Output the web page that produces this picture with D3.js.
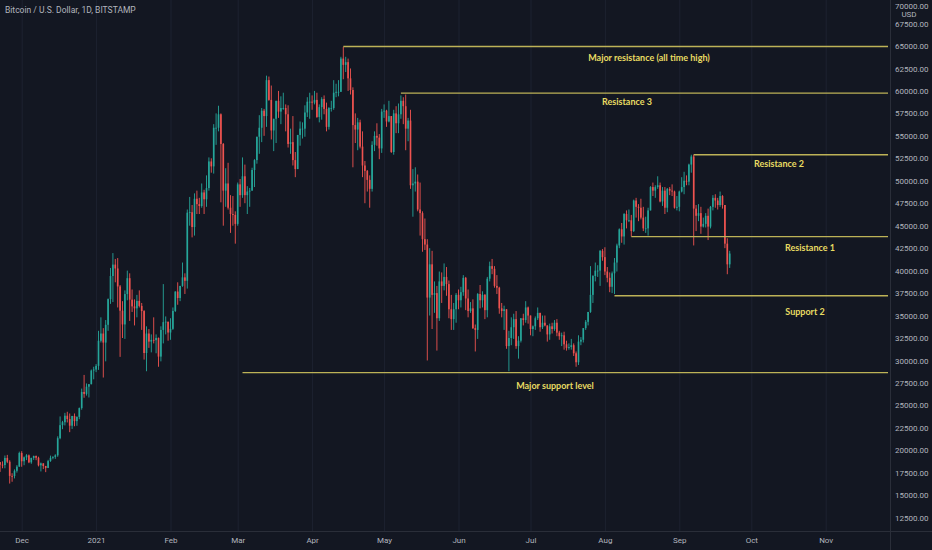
<!DOCTYPE html>
<html><head><meta charset="utf-8">
<script src="https://cdn.jsdelivr.net/npm/d3@7"></script>
<style>html,body{margin:0;padding:0;background:#131722;overflow:hidden}</style>
</head><body><svg id="c" width="932" height="550"></svg>
<script>
// ---- DATA (prices in thousands of USD, daily candles from startDate) ----
const title = "Bitcoin / U.S. Dollar, 1D, BITSTAMP";
const startDate = "2020-11-21";
const firstOpen = 18.54;
const closes = [
 18.68,18.40,18.36,19.15,18.73,17.15,17.14,17.72,18.18,19.70,
 18.78,19.22,19.44,18.66,19.15,19.37,19.17,18.33,18.55,18.25,18.04,18.80,19.17,19.27,19.44,21.35,22.80,23.13,23.85,23.48,22.74,23.82,23.25,23.72,24.70,26.49,26.28,27.08,27.36,28.88,28.99,
 29.40,32.19,33.00,31.99,33.97,36.83,39.40,40.67,40.24,38.24,35.54,34.01,37.39,39.16,36.77,36.02,35.80,36.63,36.07,35.50,30.83,33.00,32.10,32.29,32.26,32.51,30.43,33.40,34.27,34.32,33.11,
 33.52,35.51,37.67,36.95,38.30,39.25,38.87,46.45,46.50,44.85,48.00,47.40,47.19,48.70,47.94,49.19,52.15,51.60,55.90,55.90,57.40,54.10,48.90,49.70,47.00,46.30,46.20,45.20,
 49.60,48.40,50.50,48.40,48.80,48.90,51.20,52.30,54.90,55.90,57.80,57.20,61.20,59.00,55.60,56.90,58.90,57.70,58.10,58.10,57.40,54.10,54.30,52.30,51.30,55.10,55.80,55.80,57.60,58.80,58.80,
 58.70,59.00,57.10,58.20,59.10,58.00,56.00,58.10,58.10,59.80,59.90,59.90,63.60,62.90,63.20,61.40,60.10,56.20,55.70,56.50,53.80,51.70,51.10,50.10,49.10,54.00,55.00,54.80,53.60,57.70,
 57.80,56.60,57.20,53.20,57.50,56.40,57.40,58.90,58.30,55.80,56.70,49.50,49.70,49.90,46.80,46.40,43.50,42.90,37.00,40.70,37.30,37.50,34.70,38.80,38.30,39.30,38.50,35.70,34.60,35.70,37.30,
 36.70,37.60,39.20,36.90,35.50,35.80,33.60,33.40,37.40,36.70,37.30,35.60,39.10,40.50,40.20,38.30,38.10,35.80,35.50,35.70,31.60,32.50,33.70,34.60,31.60,32.20,34.70,34.50,35.90,35.00,
 33.50,33.80,34.70,35.30,33.70,34.20,33.90,32.90,33.80,33.50,34.20,33.10,32.70,32.80,31.80,31.40,31.50,31.70,30.80,29.80,32.10,32.30,33.60,34.30,35.40,37.30,39.40,40.00,40.00,42.20,41.50,
 39.90,39.20,38.20,39.70,40.90,42.80,44.60,43.80,46.30,45.60,45.60,44.40,47.80,47.10,47.00,45.90,44.70,44.70,46.70,49.30,48.90,49.30,49.50,47.70,48.90,47.00,49.10,48.90,48.80,47.00,47.10,
 48.80,49.30,50.00,49.90,51.80,52.70,46.90,46.10,46.40,44.90,45.20,46.10,44.90,47.10,48.10,47.80,47.30,48.30,47.30,43.00,40.70,41.90
];
const highs = [
 18.80,18.70,18.77,19.42,19.49,18.90,17.45,17.88,18.35,19.85,
 19.90,19.31,19.57,19.53,19.18,19.41,19.42,19.29,18.64,18.56,18.27,18.94,19.41,19.34,19.56,21.56,23.77,23.28,24.17,24.29,24.10,23.84,24.10,23.78,24.76,26.87,28.39,27.44,27.38,28.99,29.30,
 29.60,33.30,34.80,33.60,34.50,36.90,40.30,41.95,41.30,41.40,38.40,36.60,37.80,40.00,39.70,37.90,36.80,37.30,37.80,36.40,35.60,33.80,33.50,32.90,34.80,32.90,32.55,33.80,38.50,34.90,34.30,
 34.70,35.90,37.70,38.70,38.30,40.90,39.70,46.80,48.20,47.30,48.60,48.90,48.10,49.70,49.00,50.60,52.60,52.50,56.30,57.50,58.35,57.50,54.20,51.40,52.00,48.40,48.30,46.60,
 49.80,50.20,52.60,51.80,49.40,49.20,51.45,52.40,54.90,57.30,58.10,58.00,61.70,61.60,60.60,56.90,58.90,60.00,59.40,59.80,58.50,58.40,55.80,57.20,53.20,55.10,56.60,56.50,58.40,59.30,59.80,
 59.50,60.00,59.80,58.50,59.30,59.50,58.70,58.20,58.90,61.20,60.80,61.20,63.80,64.90,63.80,63.60,62.50,60.40,57.50,57.00,56.80,55.50,52.20,51.20,50.60,54.40,55.50,56.40,55.20,58.00,
 58.50,57.90,58.90,57.20,57.90,58.30,58.60,59.50,59.30,59.60,57.00,57.90,51.30,51.50,50.70,49.80,46.60,45.80,43.50,42.50,42.20,38.80,38.30,39.90,39.80,40.80,40.40,38.90,37.30,36.40,37.50,
 37.90,38.20,39.50,39.30,37.90,36.50,36.80,34.00,37.50,38.40,37.70,37.40,39.30,41.00,41.30,40.50,39.50,38.20,36.40,36.10,35.70,33.30,34.80,35.20,35.50,32.70,34.70,35.20,36.60,36.00,
 35.00,33.90,34.90,35.90,35.30,35.00,35.00,33.90,34.10,34.20,34.50,34.60,33.30,33.10,33.20,32.20,31.90,32.40,31.90,31.00,32.80,32.60,33.60,34.50,35.40,40.50,39.50,40.90,40.60,42.30,42.40,
 42.60,40.40,39.80,39.90,41.40,43.00,44.70,45.30,46.40,46.70,46.80,46.20,47.90,48.10,47.40,48.00,47.10,46.00,47.00,49.40,49.80,49.50,50.50,49.80,49.30,49.30,49.20,49.30,49.60,48.90,48.30,
 48.90,50.40,51.00,50.60,51.90,52.90,52.90,47.30,47.40,47.10,45.90,46.40,46.90,47.20,48.40,48.50,48.10,48.80,48.40,47.30,43.60,42.20
];
const lows = [
 18.35,17.60,18.00,18.00,18.57,16.30,16.50,16.87,17.52,18.17,
 18.17,18.34,18.91,18.57,18.50,18.93,18.90,18.21,17.65,17.91,17.57,18.02,18.72,19.00,19.05,19.28,21.23,22.35,22.77,23.10,22.02,22.38,22.68,22.73,23.46,24.52,25.85,26.09,25.88,27.34,27.90,
 28.70,28.95,32.00,28.10,29.90,33.30,36.30,36.50,38.70,35.90,30.40,32.50,32.40,36.70,34.40,35.40,33.90,34.80,35.90,33.40,30.10,28.80,31.40,30.90,31.90,30.80,29.30,29.90,31.90,32.90,32.20,
 32.30,33.40,35.40,36.20,36.60,38.20,37.40,38.00,45.00,43.70,43.90,46.30,46.30,47.00,46.30,47.10,48.90,50.90,50.80,54.00,55.50,47.60,45.00,47.10,46.80,44.20,45.00,43.00,
 45.00,47.10,48.10,47.50,46.30,47.10,48.90,49.30,51.90,53.00,54.30,55.00,56.00,58.90,54.60,53.30,54.20,57.00,56.30,57.90,55.50,53.70,53.00,51.70,50.40,51.30,53.90,54.70,54.90,57.10,56.90,
 57.90,58.50,57.00,56.50,56.80,57.40,55.50,55.70,57.70,57.90,59.30,59.40,59.90,61.30,62.10,60.00,59.60,51.50,54.20,53.40,53.60,50.40,47.50,48.80,47.00,48.80,53.30,53.90,52.40,53.10,
 57.00,56.00,56.50,53.10,52.90,55.30,55.30,56.90,56.30,53.40,54.40,49.10,46.00,48.80,46.60,43.90,42.10,42.30,30.00,35.00,33.50,35.30,31.10,34.40,36.40,37.80,37.20,34.70,33.40,33.40,34.20,
 35.70,35.90,37.20,35.60,34.80,35.30,33.50,31.00,32.40,35.80,35.90,34.60,34.80,38.80,39.60,38.10,37.40,35.20,34.80,33.40,31.30,28.80,31.70,32.40,31.30,30.20,32.00,33.90,34.20,34.10,
 32.80,32.70,33.40,34.50,33.20,33.50,33.80,32.10,32.30,33.00,33.30,32.70,32.30,31.60,31.20,31.10,31.20,31.20,30.50,29.30,29.50,31.70,32.00,33.40,33.90,35.30,36.40,38.80,39.30,38.30,41.10,
 39.50,38.70,37.60,37.50,37.40,39.90,42.50,43.10,42.90,44.70,45.40,43.80,44.30,45.90,45.50,45.70,44.40,44.20,43.90,46.70,48.30,48.10,49.10,47.60,47.20,46.30,46.50,48.40,48.30,46.90,46.70,
 46.60,48.70,48.50,49.50,49.50,50.90,42.80,44.40,45.50,44.10,44.80,44.80,43.40,44.70,46.70,47.00,46.80,47.10,46.90,42.50,39.60,40.30
];
const priceTicks = d3.range(12500, 70001, 2500);
const monthTicks = ["2020-12-01","2021-01-01","2021-02-01","2021-03-01","2021-04-01","2021-05-01","2021-06-01","2021-07-01","2021-08-01","2021-09-01","2021-10-01","2021-11-01"];
const monthLabels = ["Dec","2021","Feb","Mar","Apr","May","Jun","Jul","Aug","Sep","Oct","Nov"];
const levelNames  = ["Major resistance (all time high)","Resistance 3","Resistance 2","Resistance 1","Support 2","Major support level"];
const levelPrices = [64950, 59750, 52900, 43780, 37200, 28650];
const levelStarts = ["2021-04-14","2021-05-08","2021-09-07","2021-08-12","2021-08-05","2021-03-03"];

// ---- LAYOUT ----
const W = 932, H = 550, plotR = 890, plotB = 531;
const labelX  = [649, 627, 779, 810, 805, 555];
const labelDy = [12, 10, 10, 12, 16.5, 14.5];
const C = {bg:"#131722", grid:"#1d2230", axisLine:"#2a2e39", text:"#b2b5be",
           up:"#26a69a", down:"#ef5350", level:"#bdb257", levelText:"#e8dc62"};

const parse = d3.utcParse("%Y-%m-%d");
const day0 = parse(startDate);
const candles = closes.map((c,i)=>({
  date: d3.utcDay.offset(day0, i),
  o: (i===0 ? firstOpen : closes[i-1]) * 1000,
  h: highs[i]*1000, l: lows[i]*1000, c: c*1000
}));

const x = d3.scaleUtc().domain([parse("2020-12-01"), parse("2021-11-01")]).range([21.7, 825.7]);
const y = d3.scaleLinear().domain([12500, 65000]).range([517.7, 46]);
const dayW = x(parse("2021-01-02")) - x(parse("2021-01-01"));

const svg = d3.select("#c");
svg.append("rect").attr("width",W).attr("height",H).attr("fill",C.bg);
svg.append("defs").append("clipPath").attr("id","plot")
  .append("rect").attr("x",0).attr("y",0).attr("width",plotR).attr("height",plotB);

const g = svg.append("g").attr("clip-path","url(#plot)");
// grid
g.append("g").call(d3.axisLeft(y).tickValues(priceTicks).tickSize(-plotR).tickFormat(""))
  .attr("transform",`translate(${plotR},0)`)
  .call(s=>{s.select(".domain").remove(); s.selectAll("line").attr("stroke",C.grid).attr("stroke-width",1);});
g.append("g").call(d3.axisBottom(x).tickValues(monthTicks.map(parse)).tickSize(-plotB).tickFormat(""))
  .attr("transform",`translate(0,${plotB})`)
  .call(s=>{s.select(".domain").remove(); s.selectAll("line").attr("stroke",C.grid).attr("stroke-width",1);});

// candles
const bw = dayW*0.68;
const cg = g.append("g").selectAll("g").data(candles).join("g");
cg.append("line")
  .attr("x1",d=>x(d.date)).attr("x2",d=>x(d.date))
  .attr("y1",d=>y(d.h)).attr("y2",d=>y(d.l))
  .attr("stroke",d=>d.c>=d.o?C.up:C.down).attr("stroke-width",0.9);
cg.append("rect")
  .attr("x",d=>x(d.date)-bw/2).attr("width",bw)
  .attr("y",d=>y(Math.max(d.o,d.c)))
  .attr("height",d=>Math.max(0.8, Math.abs(y(d.o)-y(d.c))))
  .attr("fill",d=>d.c>=d.o?C.up:C.down);

// levels
const levels = levelNames.map((n,i)=>({name:n, price:levelPrices[i], start:parse(levelStarts[i]), lx:labelX[i], dy:labelDy[i]}));
g.append("g").selectAll("line").data(levels).join("line")
  .attr("x1",d=>x(d.start)).attr("x2",plotR-2)
  .attr("y1",d=>y(d.price)).attr("y2",d=>y(d.price))
  .attr("stroke",C.level).attr("stroke-width",1.4);
g.append("g").selectAll("text").data(levels).join("text")
  .attr("x",d=>d.lx).attr("y",d=>y(d.price)+d.dy)
  .attr("text-anchor","middle").attr("dominant-baseline","middle")
  .attr("font-family","Lato, 'Open Sans', sans-serif").attr("font-weight",700).attr("font-size",9)
  .attr("fill",C.levelText).text(d=>d.name);

// axes borders
svg.append("line").attr("x1",plotR+0.5).attr("x2",plotR+0.5).attr("y1",0).attr("y2",H).attr("stroke",C.axisLine);
svg.append("line").attr("x1",0).attr("x2",W).attr("y1",plotB+0.5).attr("y2",plotB+0.5).attr("stroke",C.axisLine);

// price axis
const ya = svg.append("g").attr("transform",`translate(${plotR},0)`)
  .call(d3.axisRight(y).tickValues(priceTicks).tickSize(0).tickPadding(5).tickFormat(d=>d3.format(".2f")(d)));
ya.select(".domain").remove();
ya.selectAll("text").attr("fill",C.text).attr("font-family","Roboto, sans-serif").attr("font-size",8);
// keep the topmost label fully inside the picture
ya.selectAll(".tick").filter(d=>d===70000).select("text").attr("dy","0.9em");
svg.append("text").attr("x",909).attr("y",15).attr("text-anchor","middle").attr("dominant-baseline","middle")
  .attr("fill",C.text).attr("font-family","Roboto, sans-serif").attr("font-size",8).text("USD");

// time axis
const xa = svg.append("g").attr("transform",`translate(0,${plotB})`)
  .call(d3.axisBottom(x).tickValues(monthTicks.map(parse)).tickSize(0).tickPadding(6)
    .tickFormat((d,i)=>monthLabels[i]));
xa.select(".domain").remove();
xa.selectAll("text").attr("fill",C.text).attr("font-family","Roboto, sans-serif").attr("font-size",8);

// title
svg.append("text").attr("x",5).attr("y",11).attr("dominant-baseline","middle")
  .attr("fill",C.text).attr("font-family","Roboto, sans-serif").attr("font-size",8.5).text(title);
</script>
</body></html>
